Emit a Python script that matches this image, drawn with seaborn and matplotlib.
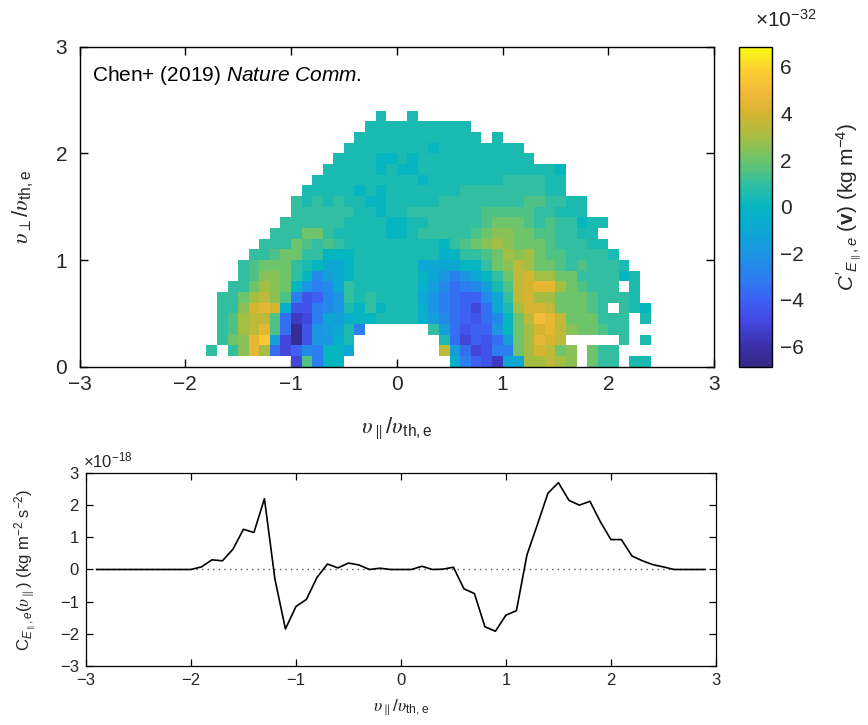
import numpy as np
import pandas as pd
import matplotlib
matplotlib.use("Agg")
import matplotlib.pyplot as plt
import seaborn as sns
from matplotlib.colors import LinearSegmentedColormap

# ---------------- data: top panel ----------------
# C'_{E||,e}(v) in units of 1e-32 kg m^-4 on a 0.1 x 0.1 velocity grid.
# Letter code per cell: value = (ord(c) - ord('n')) * 0.5 ; '.' = empty cell
VPAR_FIRST_EDGE = -1.8   # left edge of first character column
BIN = 0.1
GRID_ROWS = [  # row 0 = v_perp 0.0-0.1 (bottom) ... row 23 = 2.3-2.4
    "........dqhnn..........mhfecllttuts.rpp.oo",
    "p.pswtgdfihnnl........ukgdehhrtvurs.rpp...",
    ".prswykdaejjmo........ogdfegkrtwvu.....p.o",
    ".pqtuwqgaejkloh......pkgeffjnrtvwusrrqpp..",
    ".pqtuuqgcdhlkmnnoooomkigfeginruxwurrrppp.o",
    ".ppsvwvmeehijonpnooomjhgfdglotvvurrrqp.pon",
    ".pprtusqhefijpopooooljhgffilpuvttrrrqpppo.",
    "..pprtsrnjhilpoooooomkighikoquvwwtrqppp.o.",
    "...pqssrpniklnoooooonljhjlnpruvttrrppppno.",
    "...pqrrrponllnoooooollllnnprsutrrqpqpppo..",
    "....ppqrrppnnnoooooooomnppqrtstrqqppppo...",
    ".....ppprqpqpooooooooonpqrstsrrrqpppoo....",
    "......ppprrpooooonnopppppqrssrrqqppoo.....",
    ".......ppppppoooonnoopppppqrrrqpqppnoo....",
    "........ppppppoonoopppppppqqqqqppooo......",
    "........popopoonnoooooppppppppqqppoo.......",
    ".........ooooononoooooooppppppppoo........",
    "..........oooooooooonoooooooppppoo.........",
    "...........ooooononnooooooooooooon.........",
    "............oooonnonooooooooooo...........",
    ".............oooooooonoooooooo.............",
    "..............oooooooooooo.o..............",
    "...............oooooooooo.................",
    "................o..o......................",
]
CBAR_TICKS = [-6, -4, -2, 0, 2, 4, 6]
CBAR_LIM = 6.86
AXIS_TICKS = [-3, -2, -1, 0, 1, 2, 3]
VPERP_TICKS = [0, 1, 2, 3]

# ---------------- data: bottom panel ----------------
VPAR_LINE = [-2.9, -2.8, -2.7, -2.6, -2.5, -2.4, -2.3, -2.2, -2.1, -2.0,
             -1.9, -1.8, -1.7, -1.6, -1.5, -1.4, -1.3, -1.2, -1.1, -1.0,
             -0.9, -0.8, -0.7, -0.6, -0.5, -0.4, -0.3, -0.2, -0.1, 0.0,
             0.1, 0.2, 0.3, 0.4, 0.5, 0.6, 0.7, 0.8, 0.9, 1.0,
             1.1, 1.2, 1.3, 1.4, 1.5, 1.6, 1.7, 1.8, 1.9, 2.0,
             2.1, 2.2, 2.3, 2.4, 2.5, 2.6, 2.7, 2.8, 2.9]
C_LINE = [0.0, 0.0, 0.0, 0.0, 0.0, 0.0, 0.0, 0.0, 0.0, 0.0,
          0.08, 0.30, 0.27, 0.63, 1.25, 1.15, 2.20, -0.30, -1.85, -1.15,
          -0.93, -0.25, 0.17, 0.05, 0.20, 0.14, 0.00, 0.04, 0.00, 0.00,
          0.00, 0.10, 0.00, 0.01, 0.07, -0.60, -0.75, -1.78, -1.92, -1.42,
          -1.28, 0.45, 1.40, 2.37, 2.70, 2.15, 2.00, 2.12, 1.48, 0.93,
          0.93, 0.42, 0.27, 0.15, 0.08, 0.00, 0.00, 0.00, 0.00]
C_YTICKS = [-3, -2, -1, 0, 1, 2, 3]

# ---------------- style ----------------
sns.set_theme(style="white")
plt.rcParams["font.family"] = ["Liberation Sans", "DejaVu Sans"]
plt.rcParams["mathtext.fontset"] = "custom"
plt.rcParams["mathtext.rm"] = "Liberation Sans"
plt.rcParams["mathtext.it"] = "Liberation Sans:italic"
plt.rcParams["mathtext.bf"] = "Liberation Sans:bold"
plt.rcParams["mathtext.sf"] = "STIXGeneral:italic"
plt.rcParams["axes.unicode_minus"] = True

cmap = LinearSegmentedColormap.from_list("parula_like", [
    (0.00, "#352a87"), (0.06, "#3b2fa8"), (0.14, "#4348e0"), (0.21, "#3c62f4"),
    (0.28, "#2c7ef0"), (0.355, "#1c96e2"), (0.43, "#0ca8d4"), (0.50, "#04b6c2"),
    (0.57, "#30bea2"), (0.645, "#6cc46c"), (0.72, "#a6be42"), (0.79, "#d4b430"),
    (0.86, "#f4ba3a"), (0.93, "#fcd030"), (1.00, "#f8fa10")])

def lab(v):
    return f"{v}".replace("-", "\u2212")

UPS = r"\mathsf{\upsilon}"
UPS_PAR = rf"${UPS}_{{\parallel}}/{UPS}_{{\mathrm{{th,e}}}}$"
UPS_PERP = rf"${UPS}_{{\perp}}/{UPS}_{{\mathrm{{th,e}}}}$"

# build full grid -3..3 x 0..3
NCOL, NROW = 60, 30
full = np.full((NROW, NCOL), np.nan)
off = int(round((VPAR_FIRST_EDGE + 3.0) / BIN))
for j, row in enumerate(GRID_ROWS):
    row = row.ljust(42, ".")[:42]
    for i, ch in enumerate(row):
        if ch != ".":
            full[j, off + i] = (ord(ch) - ord("n")) * 0.5
vpar_c = np.round(-3.0 + BIN * (np.arange(NCOL) + 0.5), 2)
vperp_c = np.round(BIN * (np.arange(NROW) + 0.5), 2)
df = pd.DataFrame(full, index=vperp_c, columns=vpar_c)

fig = plt.figure(figsize=(8.68, 7.25), dpi=100)
ax = fig.add_axes([0.0916, 0.4942, 0.7310, 0.4415])
cax = fig.add_axes([0.8514, 0.4942, 0.0380, 0.4415])

sns.heatmap(df, ax=ax, cbar_ax=cax, cmap=cmap, vmin=-CBAR_LIM, vmax=CBAR_LIM,
            xticklabels=False, yticklabels=False, linewidths=0,
            cbar_kws={"ticks": CBAR_TICKS})
ax.invert_yaxis()
ax.set_xlim(0, NCOL)
ax.set_ylim(0, NROW)
ax.set_xticks([(t + 3.0) / BIN for t in AXIS_TICKS])
ax.set_xticklabels([lab(t) for t in AXIS_TICKS])
ax.set_yticks([t / BIN for t in VPERP_TICKS])
ax.set_yticklabels([lab(t) for t in VPERP_TICKS], rotation=0)
for s in ax.spines.values():
    s.set_visible(True)
    s.set_color("black")
    s.set_linewidth(1.0)
ax.tick_params(direction="in", top=True, right=True, bottom=True, left=True,
               length=6, width=1, color="black", labelsize=15)
ax.tick_params(axis="x", pad=6)
ax.tick_params(axis="y", pad=9)
ax.set_xlabel(UPS_PAR, fontsize=16, labelpad=16)
ax.set_ylabel(UPS_PERP, fontsize=16, labelpad=14)
ax.text(0.02, 0.91, r"Chen+ (2019) $\it{Nature\ Comm}$.", transform=ax.transAxes,
        fontsize=15, ha="left", va="center", color="black")

cbar = ax.collections[0].colorbar
cbar.outline.set_edgecolor("black")
cbar.outline.set_linewidth(1.0)
cax.tick_params(direction="in", length=5, width=1, color="black", labelsize=15, pad=6)
cbar.set_ticklabels([lab(t) for t in CBAR_TICKS])
cbar.set_label(r"$C'_{E_{\parallel},e}$ $(\mathbf{v})$ (kg m$^{-4}$)", fontsize=15,
               labelpad=22)
fig.text(0.905, 0.972, r"$\times$10$^{-32}$", fontsize=15, ha="center", va="center")

# ---------------- bottom panel ----------------
ax2 = fig.add_axes([0.0990, 0.0814, 0.7258, 0.2662])
sns.lineplot(x=VPAR_LINE, y=C_LINE, ax=ax2, color="black", linewidth=1.2)
ax2.hlines(0, VPAR_LINE[0], VPAR_LINE[-1], colors="0.35", linestyles=(0, (1, 3)),
           linewidth=1.0, zorder=1)
ax2.set_xlim(-3, 3)
ax2.set_ylim(-3, 3)
ax2.set_xticks(AXIS_TICKS)
ax2.set_xticklabels([lab(t) for t in AXIS_TICKS])
ax2.set_yticks(C_YTICKS)
ax2.set_yticklabels([lab(t) for t in C_YTICKS])
for s in ax2.spines.values():
    s.set_visible(True)
    s.set_color("black")
    s.set_linewidth(0.9)
ax2.tick_params(direction="in", top=True, right=True, bottom=True, left=True,
                length=5, width=0.9, color="black", labelsize=12, pad=5)
ax2.set_xlabel(UPS_PAR, fontsize=12.5, labelpad=7)
ax2.set_ylabel(rf"C$_{{E_{{\parallel}},e}}$(${UPS}_{{\parallel}}$) (kg m$^{{-2}}$ s$^{{-2}}$)",
               fontsize=12, labelpad=14)
ax2.text(-0.005, 1.015, r"$\times$10$^{-18}$", transform=ax2.transAxes,
         fontsize=12, ha="left", va="bottom")

fig.savefig("out.png", dpi=100)
